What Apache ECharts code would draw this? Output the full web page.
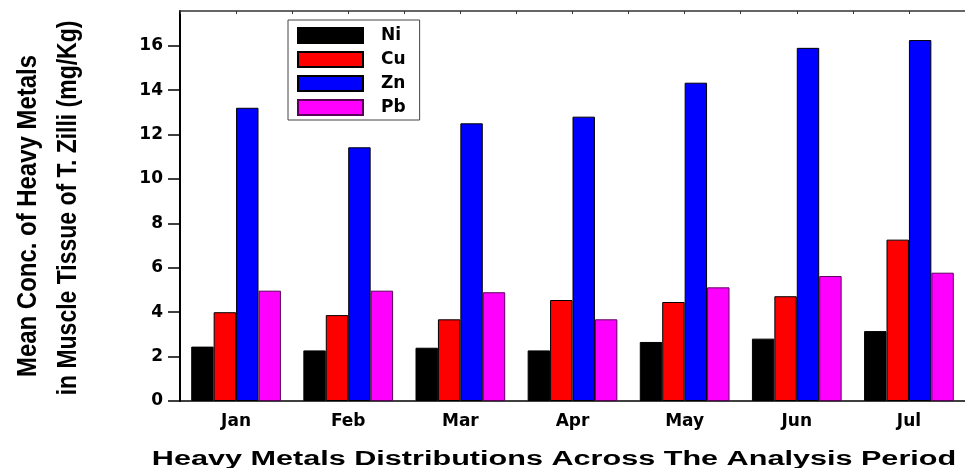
<!DOCTYPE html>
<html>
<head>
<meta charset="utf-8">
<script src="https://cdn.jsdelivr.net/npm/echarts@6/dist/echarts.min.js"></script>
<style>html,body{margin:0;padding:0;background:#fff}#c{width:965px;height:468px}</style>
</head>
<body>
<div id="c"></div>
<script>
var categories = ['Jan', 'Feb', 'Mar', 'Apr', 'May', 'Jun', 'Jul'];
var niValues = [2.45, 2.28, 2.40, 2.28, 2.66, 2.81, 3.15];
var cuValues = [4.00, 3.87, 3.68, 4.55, 4.46, 4.72, 7.27];
var znValues = [13.21, 11.43, 12.51, 12.81, 14.34, 15.91, 16.26];
var pbValues = [4.97, 4.97, 4.90, 3.68, 5.12, 5.63, 5.78];
var seriesNames = ['Ni', 'Cu', 'Zn', 'Pb'];
var yTicks = [0, 2, 4, 6, 8, 10, 12, 14, 16];
var xTitle = 'Heavy Metals Distributions Across The Analysis Period';
var yTitle1 = 'Mean Conc. of Heavy Metals';
var yTitle2 = 'in Muscle Tissue of T. Zilli (mg/Kg)';

var colors = ['#000000', '#ff0000', '#0000ff', '#ff00ff'];
var borders = ['#000000', '#000000', '#000000', '#5a005a'];
var dataSets = [niValues, cuValues, znValues, pbValues];
var FONT = 'DejaVu Sans';

var chart = echarts.init(document.getElementById('c'), null, {renderer: 'canvas'});
var series = seriesNames.map(function (n, i) {
  return {
    name: n, type: 'bar', data: dataSets[i],
    barGap: '0%', barCategoryGap: '20%',
    itemStyle: {color: colors[i], borderColor: borders[i], borderWidth: 1},
    emphasis: {disabled: true}
  };
});

chart.setOption({
  animation: false,
  grid: {left: 180, top: 11, width: 789, height: 390, containLabel: false},
  legend: {
    data: seriesNames, orient: 'vertical', left: 288, top: 20,
    itemWidth: 65, itemHeight: 15, itemGap: 7,
    padding: [7, 14, 4, 9],
    borderColor: '#444', borderWidth: 1, backgroundColor: '#fff',
    icon: 'rect',
    textStyle: {fontFamily: FONT, fontWeight: 'bold', fontSize: 17, color: '#000', padding: [0, 0, 0, 13]},
    selectedMode: false
  },
  xAxis: [{
    type: 'category', data: categories, position: 'bottom',
    axisLine: {lineStyle: {color: '#000', width: 1.5}},
    axisTick: {alignWithLabel: true, length: 6, lineStyle: {color: '#000', width: 1.5}},
    axisLabel: {fontFamily: FONT, fontWeight: 'bold', fontSize: 17, color: '#000', margin: 12},
    splitLine: {show: false}
  }, {
    type: 'value', position: 'top', min: 0, max: 14, interval: 1,
    axisLine: {show: true, lineStyle: {color: '#333', width: 1.5}},
    axisTick: {show: true, inside: true, length: 3, lineStyle: {color: '#333'}},
    axisLabel: {show: false}, splitLine: {show: false}
  }],
  yAxis: {
    type: 'value', min: 0, max: 17.57, interval: 2,
    axisLine: {show: true, lineStyle: {color: '#000', width: 2}},
    axisTick: {show: true, length: 12, lineStyle: {color: '#000', width: 1.5}},
    axisLabel: {
      fontFamily: FONT, fontWeight: 'bold', fontSize: 17, color: '#000', margin: 17,
      showMaxLabel: false,
      formatter: function (v) { return yTicks.indexOf(v) >= 0 ? String(v) : ''; }
    },
    splitLine: {show: false}
  },
  graphic: [
    {type: 'text', x: 554, y: 459, scaleX: 1.53,
     style: {text: xTitle, font: 'bold 20px "Liberation Sans", Arial, sans-serif', fill: '#000', align: 'center', verticalAlign: 'middle'}},
    {type: 'text', x: 28, y: 216, rotation: Math.PI / 2, scaleX: 0.855,
     style: {text: yTitle1, font: 'bold 28px "Liberation Sans", Arial, sans-serif', fill: '#000', align: 'center', verticalAlign: 'middle'}},
    {type: 'text', x: 68, y: 208, rotation: Math.PI / 2, scaleX: 0.82,
     style: {text: yTitle2, font: 'bold 28px "Liberation Sans", Arial, sans-serif', fill: '#000', align: 'center', verticalAlign: 'middle'}}
  ],
  series: series
});
</script>
</body>
</html>
